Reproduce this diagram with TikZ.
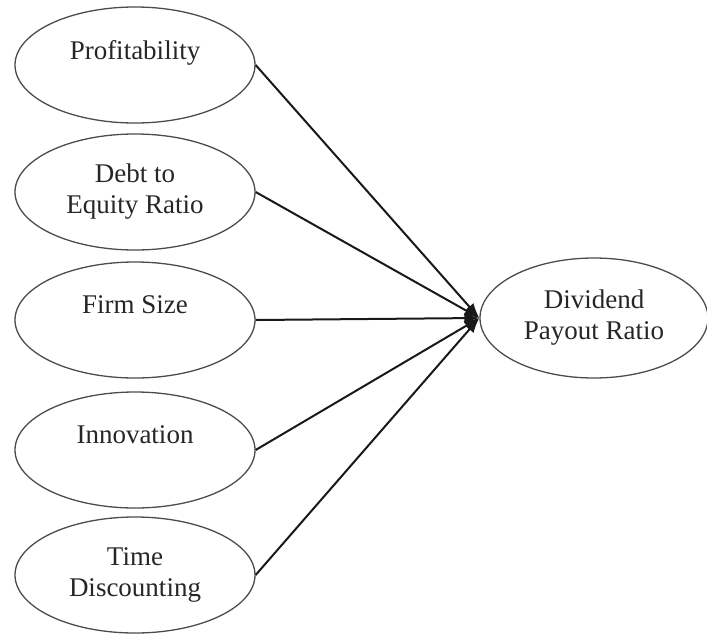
\documentclass[tikz,border=0pt]{standalone}
\usepackage{fontspec}
\setmainfont{Liberation Serif}
\usepackage{tikz}
\usetikzlibrary{arrows.meta,shapes.geometric,positioning}
\tikzset{
    factor/.style={
                ellipse,
                draw=black!70,
                line width=1.3pt,
                minimum width=240pt,
                minimum height=116pt,
                inner sep=0pt,
                align=center,
                text=black!85,
                font=\fontsize{27}{31}\selectfont
            },
        outcome/.style={
                factor,
                minimum width=228pt,
                minimum height=120pt
            },
        effect/.style={
                draw=black!90,
                line width=2pt,
                -{Latex[length=15pt,width=11pt]}
            }
}

\begin{document}
\begin{tikzpicture}[x=1pt,y=-1pt]
  \useasboundingbox (0,0) rectangle (707,633);
  % Independent variables
  \node[factor] (prof) at (135,65) {Profitability\\ \mbox{}};
  \node[factor] (der) at (135,192) {Debt to\\Equity Ratio};
  \node[factor] (size) at (135,320) {Firm Size\\ \mbox{}};
  \node[factor] (innov) at (135,450) {Innovation\\ \mbox{}};
  \node[factor] (disc) at (135,575) {Time\\Discounting};
  % Dependent variable
  \node[outcome] (dpr) at (594,318) {Dividend\\Payout Ratio};
  % Paths
  \draw[effect] (prof.east) -- (dpr.west);
  \draw[effect] (der.east) -- (dpr.west);
  \draw[effect] (size.east) -- (dpr.west);
  \draw[effect] (innov.east) -- (dpr.west);
  \draw[effect] (disc.east) -- (dpr.west);
\end{tikzpicture}
\end{document}
